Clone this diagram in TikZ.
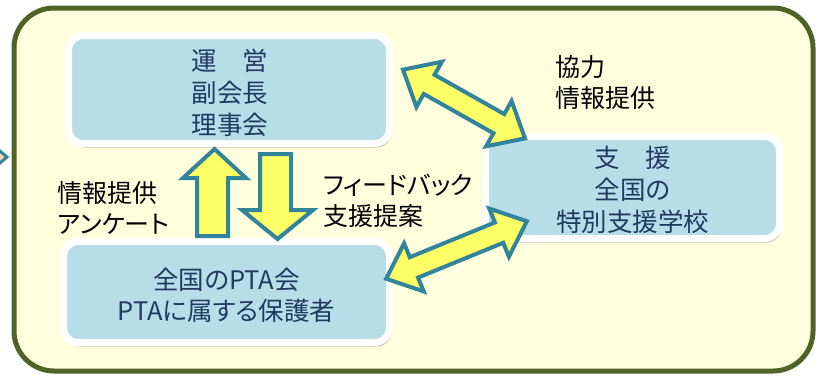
\documentclass[tikz,border=0pt]{standalone}
\usepackage{fontspec}
\setmainfont{Noto Sans CJK JP}[RawFeature=+palt]
\usetikzlibrary{shadows}
\definecolor{bgcream}{HTML}{FFFFDD}
\definecolor{frameolive}{HTML}{4F6228}
\definecolor{boxblue}{HTML}{B7DDE8}
\definecolor{boxtext}{HTML}{1F3B60}
\definecolor{arrowteal}{HTML}{31849B}
\definecolor{arrowyellow}{HTML}{FFFF66}
\definecolor{chevfill}{HTML}{F9D9B8}
\tikzset{
  infobox/.style={draw=white, line width=7pt, fill=boxblue, rounded corners=15pt,
    text=boxtext, font=\fontsize{25.5}{32}\selectfont, align=center, inner sep=0pt,
    drop shadow={shadow xshift=2pt, shadow yshift=-4pt, opacity=0.35, fill=black!70}},
  lbl/.style={font=\fontsize{25}{31}\selectfont, align=left, anchor=west, inner sep=0pt, text=black},
  blockarrow/.style={draw=arrowteal, fill=arrowyellow, line width=4pt, line join=miter}
}
\begin{document}
\begin{tikzpicture}[x=1pt,y=-1pt]
\useasboundingbox (0,0) rectangle (818,376);
% outer frame
\draw[frameolive, fill=bgcream, line width=5pt, rounded corners=40pt] (14,8) rectangle (813,371);
% left chevron (partially visible)
\begin{scope}
\clip (0,0) rectangle (818,376);
\draw[draw=arrowteal, fill=chevfill, line width=3pt, line join=miter] (-6,146) -- (7,157) -- (-6,168) -- cycle;
\end{scope}
% boxes
\node[infobox, minimum width=321pt, minimum height=108pt] (unei) at (229,89.5) {};
\node[text=boxtext, font=\fontsize{25.5}{32}\selectfont, align=center, inner sep=0pt] (uneitext) at (230,93) {運\hspace{1em}営\\副会長\\理事会};
\node[infobox, minimum width=326pt, minimum height=101pt] (pta) at (226.5,292) {};
\node[text=boxtext, font=\fontsize{25.5}{31}\selectfont, align=center, inner sep=0pt] (ptatext) at (226.5,295) {全国のPTA会\\PTAに属する保護者};
\node[infobox, minimum width=294pt, minimum height=102pt] (school) at (632.5,187.5) {};
\node[text=boxtext, font=\fontsize{25.5}{32}\selectfont, align=center, inner sep=0pt] (schooltext) at (632.5,190) {支\hspace{1em}援\\全国の\\特別支援学校};
% labels
\node[lbl] (l1) at (555,82.5) {協力\\情報提供};
\node[lbl] (l2) at (57,208) {情報提供\\アンケート};
\node[lbl] (l3) at (323,201) {フィードバック\\支援提案};
% vertical arrows
\draw[blockarrow] (197,236) -- (197,178) -- (183,178) -- (214.5,149) -- (246,178) -- (228,178) -- (228,236) -- cycle;
\draw[blockarrow] (260,154) -- (291,154) -- (291,210) -- (313,210) -- (277.5,239) -- (242,210) -- (260,210) -- cycle;
% diagonal double arrows
\draw[blockarrow, shift={(464,104)}, rotate=-29.4]
  (-70,0) -- (-40,26) -- (-40,11) -- (40,11) -- (40,26) -- (70,0) -- (40,-26) -- (40,-11) -- (-40,-11) -- (-40,-26) -- cycle;
\draw[blockarrow, shift={(456.5,250)}, rotate=22.2]
  (-76,0) -- (-46,26) -- (-46,11) -- (46,11) -- (46,26) -- (76,0) -- (46,-26) -- (46,-11) -- (-46,-11) -- (-46,-26) -- cycle;
\end{tikzpicture}
\end{document}
